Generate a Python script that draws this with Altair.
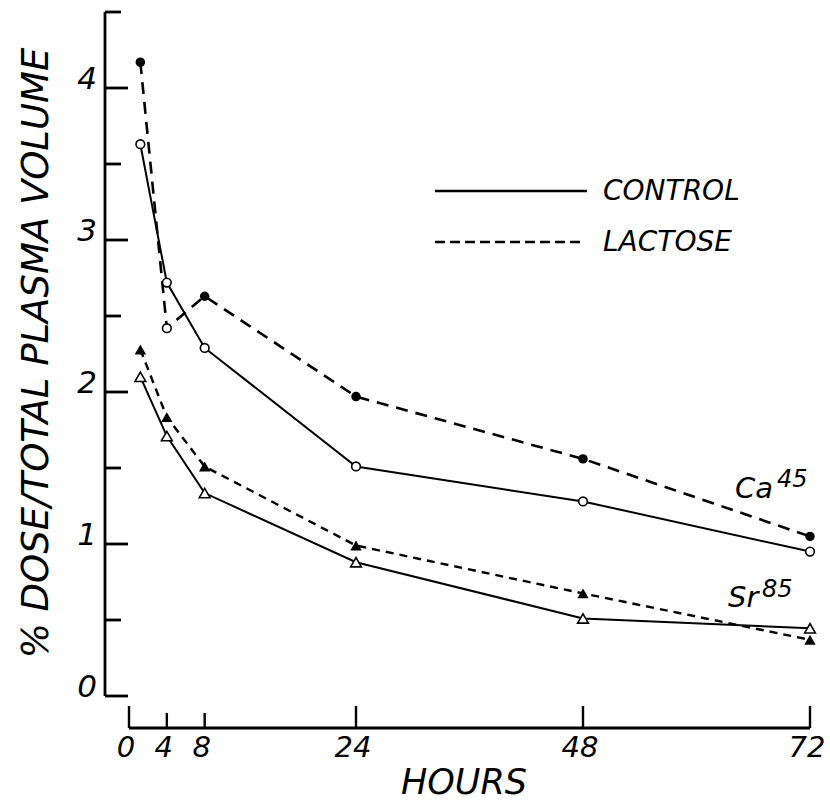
import altair as alt
import pandas as pd

# ---- data ----
hours = [1.2, 4, 8, 24, 48, 72]
ca_control = [3.63, 2.72, 2.29, 1.51, 1.28, 0.95]
ca_lactose = [4.17, 2.42, 2.63, 1.97, 1.56, 1.05]
sr_control = [2.10, 1.71, 1.335, 0.88, 0.51, 0.445]
sr_lactose = [2.28, 1.835, 1.51, 0.99, 0.675, 0.37]

x_ticks_long = [0, 24, 48, 72]
x_ticks_short = [4, 8]
x_tick_labels = [0, 4, 8, 24, 48, 72]
y_ticks_major = [0, 1, 2, 3, 4]
y_ticks_minor = [0.5, 1.5, 2.5, 3.5, 4.5]
y_tick_labels = ["0", "1", "2", "3", "4"]
legend_labels = ["CONTROL", "LACTOSE"]
x_title = "HOURS"
y_title = "% DOSE/TOTAL PLASMA VOLUME"

FONT = "DejaVu Sans"
W, H = 681, 684

xs = alt.Scale(domain=[0, 72], nice=False, zero=False)
ys = alt.Scale(domain=[0, 4.5], nice=False, zero=False)
X = alt.X("hours:Q", scale=xs, axis=None)
Y = alt.Y("value:Q", scale=ys, axis=None)


def sdf(vals):
    return pd.DataFrame({"hours": hours, "value": vals})


def line(vals, width, dash=None):
    kw = dict(color="black", strokeWidth=width)
    if dash:
        kw["strokeDash"] = dash
    return alt.Chart(sdf(vals)).mark_line(**kw).encode(x=X, y=Y)


def pts(vals, shape, filled, size):
    if filled:
        m = alt.Chart(sdf(vals)).mark_point(shape=shape, filled=True, color="black",
                                            size=size, opacity=1)
    else:
        m = alt.Chart(sdf(vals)).mark_point(shape=shape, filled=True, fill="white",
                                            stroke="black", strokeWidth=1.6,
                                            size=size, opacity=1)
    return m.encode(x=X, y=Y)


layers = []

# series lines
layers.append(line(ca_control, 2.0))
layers.append(line(ca_lactose, 2.6, [12, 8]))
layers.append(line(sr_control, 2.0))
layers.append(line(sr_lactose, 2.4, [8, 6]))

# markers
layers.append(pts(ca_control, "circle", False, 75))
ca_lac_df = sdf(ca_lactose)
layers.append(alt.Chart(ca_lac_df).transform_filter("datum.hours != 4")
              .mark_point(shape="circle", filled=True, color="black", size=90, opacity=1)
              .encode(x=X, y=Y))
layers.append(alt.Chart(ca_lac_df).transform_filter("datum.hours == 4")
              .mark_point(shape="circle", filled=True, fill="white", stroke="black",
                          strokeWidth=1.6, size=75, opacity=1)
              .encode(x=X, y=Y))
layers.append(pts(sr_control, "triangle-up", False, 115))
layers.append(pts(sr_lactose, "triangle-up", True, 130))

# ---- y axis (drawn by hand: ticks point inward) ----
layers.append(alt.Chart(pd.DataFrame({"a": [0], "b": [4.5]})).mark_rule(
    color="black", strokeWidth=2.8).encode(
    y=alt.Y("a:Q", scale=ys, axis=None), y2="b:Q", x=alt.value(-24)))
layers.append(alt.Chart(pd.DataFrame({"v": y_ticks_major})).mark_rule(
    color="black", strokeWidth=2.8).encode(
    y=alt.Y("v:Q", scale=ys, axis=None), x=alt.value(-24), x2=alt.value(-1)))
layers.append(alt.Chart(pd.DataFrame({"v": y_ticks_minor})).mark_rule(
    color="black", strokeWidth=2.8).encode(
    y=alt.Y("v:Q", scale=ys, axis=None), x=alt.value(-24), x2=alt.value(-8)))
layers.append(alt.Chart(pd.DataFrame({"v": y_ticks_major, "t": y_tick_labels})).mark_text(
    font=FONT, fontSize=31, fontStyle="italic", align="right", baseline="middle",
    dy=-8, color="black").encode(
    y=alt.Y("v:Q", scale=ys, axis=None), x=alt.value(-32), text="t:N"))
layers.append(alt.Chart(pd.DataFrame({"t": [y_title]})).mark_text(
    font=FONT, fontSize=37, fontStyle="italic", angle=270, align="center",
    baseline="middle", color="black").encode(
    x=alt.value(-92), y=alt.value(341), text="t:N"))

# ---- x axis (offset below, ticks point up) ----
layers.append(alt.Chart(pd.DataFrame({"a": [0], "b": [72]})).mark_rule(
    color="black", strokeWidth=2.8).encode(
    x=alt.X("a:Q", scale=xs, axis=None), x2="b:Q", y=alt.value(716)))
layers.append(alt.Chart(pd.DataFrame({"h": x_ticks_long})).mark_rule(
    color="black", strokeWidth=2.4).encode(
    x=alt.X("h:Q", scale=xs, axis=None), y=alt.value(716), y2=alt.value(694)))
layers.append(alt.Chart(pd.DataFrame({"h": x_ticks_short})).mark_rule(
    color="black", strokeWidth=2.4).encode(
    x=alt.X("h:Q", scale=xs, axis=None), y=alt.value(716), y2=alt.value(701)))
layers.append(alt.Chart(pd.DataFrame({"h": x_tick_labels, "t": [str(v) for v in x_tick_labels]}))
              .mark_text(font=FONT, fontSize=29, fontStyle="italic", align="center",
                         baseline="middle", dx=-3, color="black").encode(
    x=alt.X("h:Q", scale=xs, axis=None), y=alt.value(736), text="t:N"))
layers.append(alt.Chart(pd.DataFrame({"t": [x_title]})).mark_text(
    font=FONT, fontSize=35, fontStyle="italic", align="center", baseline="middle",
    color="black").encode(x=alt.value(335), y=alt.value(771), text="t:N"))

# ---- legend ----
layers.append(alt.Chart(pd.DataFrame({"k": [0]})).mark_rule(color="black", strokeWidth=2.6)
              .encode(x=alt.value(306), x2=alt.value(458), y=alt.value(179)))
layers.append(alt.Chart(pd.DataFrame({"k": [0]})).mark_rule(color="black", strokeWidth=2.6,
                                                           strokeDash=[10, 5])
              .encode(x=alt.value(306), x2=alt.value(454), y=alt.value(230)))
layers.append(alt.Chart(pd.DataFrame({"t": legend_labels, "yy": [180, 231]})).mark_text(
    font=FONT, fontSize=28, fontStyle="italic", align="left", baseline="middle",
    color="black").encode(x=alt.value(474), y=alt.Y("yy:Q", scale=None, axis=None),
                          text="t:N"))

# ---- series labels ----
def lab(txt, x, y, size):
    return alt.Chart(pd.DataFrame({"t": [txt]})).mark_text(
        font=FONT, fontSize=size, fontStyle="italic", align="left",
        baseline="alphabetic", color="black").encode(
        x=alt.value(x), y=alt.value(y), text="t:N")

layers.append(lab("Ca", 606, 486, 29))
layers.append(lab("45", 648, 475, 24))
layers.append(lab("Sr", 599, 595, 29))
layers.append(lab("85", 633, 585, 24))

chart = alt.layer(*layers).properties(
    width=W, height=H,
    padding={"left": 129, "top": 12, "right": 20, "bottom": 106},
    autosize=alt.AutoSizeParams(type="none"),
    background="white",
).configure_view(stroke=None)

chart.save("out.html", embed_options={"renderer": "svg", "actions": False})
